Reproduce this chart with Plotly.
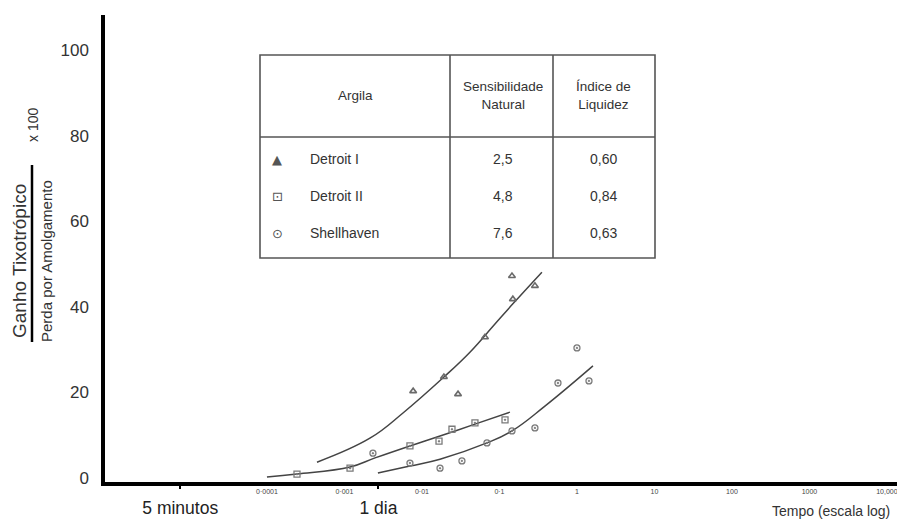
import plotly.graph_objects as go

# ---------------- data (x = time in years, y = ratio x 100) ----------------
tri_x = [0.0077, 0.0192, 0.0292, 0.065, 0.149, 0.145, 0.287]
tri_y = [20.3, 23.6, 19.6, 32.9, 41.8, 47.2, 44.9]

sq_x = [2.44e-4, 1.18e-3, 7.0e-3, 0.0166, 0.0244, 0.0483, 0.118]
sq_y = [0.9, 2.3, 7.5, 8.6, 11.4, 12.9, 13.6]

ci_x = [2.33e-3, 7.0e-3, 0.0171, 0.0328, 0.069, 0.145, 0.287, 0.569, 1.0, 1.43]
ci_y = [5.8, 3.5, 2.3, 4.0, 8.2, 11.0, 11.7, 22.2, 30.4, 22.7]

c1_x = [4.42e-4, 2.13e-3, 5.69e-3, 0.0192, 0.0416, 0.0875, 0.149, 0.353]
c1_y = [3.7, 9.3, 15.2, 23.6, 29.4, 36.0, 40.7, 48.1]

c2_x = [1.0e-4, 2.44e-4, 1.18e-3, 2.48e-3, 7.0e-3, 0.0171, 0.0483, 0.1365]
c2_y = [0.23, 0.93, 2.57, 4.7, 7.5, 9.8, 12.6, 15.4]

c3_x = [2.70e-3, 7.0e-3, 0.0171, 0.069, 0.145, 0.386, 1.61]
c3_y = [1.17, 2.8, 4.4, 8.2, 11.0, 16.8, 26.2]

x_tickvals = [1e-4, 1e-3, 1e-2, 1e-1, 1, 10, 100, 1000, 10000]
x_ticktext = ["0·0001", "0·001", "0·01", "0·1", "1", "10", "100", "1000", "10,000"]
time_tickvals = [7.6e-6, 1 / 365]
time_ticktext = ["5 minutos", "1 dia"]
y_tickvals = [0, 20, 40, 60, 80, 100]

argila = ["Detroit I", "Detroit II", "Shellhaven"]
sensibilidade = ["2,5", "4,8", "7,6"]
indice = ["0,60", "0,84", "0,63"]
table_symbols = ["▲", "⊡", "⊙"]
headers = ["Argila", "Sensibilidade<br>Natural", "Índice de<br>Liquidez"]

# ---------------- layout helpers (pixel -> paper) ----------------
W, H = 897, 520
L, R, T, B = 105, 0, 15, 38
PW, PH = W - L - R, H - T - B


def px(x):
    return (x - L) / PW


def py(y):
    return (H - B - y) / PH


FONT = "Arial, Liberation Sans, sans-serif"
MK = "#6a6a6a"
LN = "#444444"

fig = go.Figure()

for cx, cy in [(c1_x, c1_y), (c2_x, c2_y), (c3_x, c3_y)]:
    fig.add_trace(go.Scatter(x=cx, y=cy, mode="lines",
                             line=dict(color=LN, width=1.5, shape="spline", smoothing=1.2),
                             showlegend=False, hoverinfo="skip"))

fig.add_trace(go.Scatter(x=tri_x, y=tri_y, mode="markers", name="Detroit I",
                         marker=dict(symbol="triangle-up-open", size=6, color=MK, line=dict(width=1.6, color=MK)),
                         showlegend=False))
fig.add_trace(go.Scatter(x=sq_x, y=sq_y, mode="markers", name="Detroit II",
                         marker=dict(symbol="square-open-dot", size=6, color="#7a7a7a", line=dict(width=1.3, color="#7a7a7a")),
                         showlegend=False))
fig.add_trace(go.Scatter(x=ci_x, y=ci_y, mode="markers", name="Shellhaven",
                         marker=dict(symbol="circle-open-dot", size=6, color="#7a7a7a", line=dict(width=1.3, color="#7a7a7a")),
                         showlegend=False))
# carrier trace for the secondary time axis
fig.add_trace(go.Scatter(x=time_tickvals, y=[0, 0], xaxis="x2", mode="markers",
                         marker=dict(opacity=0), showlegend=False, hoverinfo="skip"))

xrange = [-6.09, 4.13]
fig.update_layout(
    width=W, height=H,
    margin=dict(l=L, r=R, t=T, b=B),
    paper_bgcolor="white", plot_bgcolor="white",
    font=dict(family=FONT, color="#333"),
    xaxis=dict(type="log", range=xrange, tickvals=x_tickvals, ticktext=x_ticktext,
               tickfont=dict(size=7, color="#444"), showline=True, linecolor="black",
               linewidth=3.5, ticks="", showgrid=False, zeroline=False,
               ticklabeloverflow="allow"),
    xaxis2=dict(type="log", range=xrange, overlaying="x", side="bottom", anchor="y",
                tickvals=time_tickvals, ticktext=time_ticktext, ticks="outside",
                ticklen=6, tickwidth=2, tickcolor="black", showline=False,
                showgrid=False, zeroline=False, tickfont=dict(size=17.5, color="#222"),
                ticklabelstandoff=4),
    yaxis=dict(range=[-0.93, 108.2], tickvals=y_tickvals, tickfont=dict(size=17, color="#333"),
               showline=True, linecolor="black", linewidth=3.5, ticks="",
               ticklabelstandoff=9, showgrid=False, zeroline=False),
)


def note(text, x, y, size, xanchor="center", angle=0, family=None, color="#333"):
    f = dict(size=size, color=color)
    if family:
        f["family"] = family
    return dict(text=text, x=px(x), y=py(y), xref="paper", yref="paper",
                xanchor=xanchor, yanchor="middle", textangle=angle,
                showarrow=False, font=f)


ann = []
# axis titles
ann.append(note("Ganho Tixotrópico", 19, 261, 19, angle=-90))
ann.append(note("Perda por Amolgamento", 46, 261, 15, angle=-90))
ann.append(note("x 100", 33, 125, 14, angle=-90))
ann.append(note("Tempo (escala log)", 892, 511, 14, xanchor="right"))

# table text
col_x = [355, 503, 603]
for hx, htxt in zip(col_x, headers):
    ann.append(note(htxt, hx, 96, 13.5))
for i, (name, s, ind, sym) in enumerate(zip(argila, sensibilidade, indice, table_symbols)):
    ry = 159 + i * 37
    ann.append(note(sym, 277, ry, 13, family="DejaVu Sans", color="#555"))
    ann.append(note(name, 308, ry, 14, xanchor="left"))
    ann.append(note(s, col_x[1], ry, 14))
    ann.append(note(ind, col_x[2], ry, 14))
fig.update_layout(annotations=ann)

shapes = []
tc = "#555"
shapes.append(dict(type="rect", xref="paper", yref="paper", x0=px(260), x1=px(655),
                   y0=py(258), y1=py(55), line=dict(color=tc, width=1.6)))
for vx in [450, 553]:
    shapes.append(dict(type="line", xref="paper", yref="paper", x0=px(vx), x1=px(vx),
                       y0=py(258), y1=py(55), line=dict(color=tc, width=1.6)))
shapes.append(dict(type="line", xref="paper", yref="paper", x0=px(260), x1=px(655),
                   y0=py(137), y1=py(137), line=dict(color=tc, width=1.6)))
# fraction bar of the y title
shapes.append(dict(type="line", xref="paper", yref="paper", x0=px(32), x1=px(32),
                   y0=py(342), y1=py(165), line=dict(color="black", width=2.5)))
fig.update_layout(shapes=shapes)

fig.write_html("out.html")
